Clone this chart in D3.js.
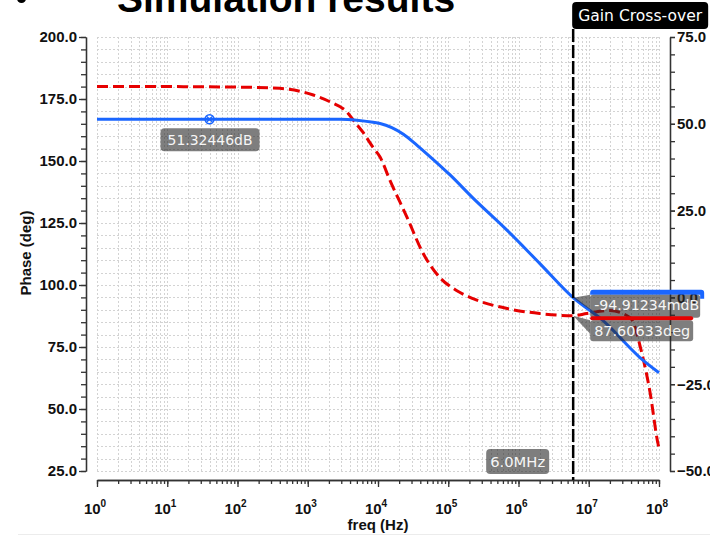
<!DOCTYPE html>
<html>
<head>
<meta charset="utf-8">
<script src="https://cdn.jsdelivr.net/npm/d3@7"></script>
<style>
  body { margin: 0; background: #fff; }
  svg { display: block; }
</style>
</head>
<body>
<svg id="chart" width="710" height="535"></svg>
<script>
// Open-loop magnitude (dB) vs frequency
const gainFreq = [1, 2.9e3, 5.0e3, 8.5e3, 1.07e4, 2.3e4, 3.6e4, 5.0e4, 1.07e5, 2.2e5, 6.9e5, 2.0e6, 6.0e6, 1.6e7, 5.4e7, 1e8];
const gainDb   = [51.32446, 51.32, 51.05, 50.45, 50.1, 47.0, 43.8, 41.3, 35.2, 28.8, 19.3, 9.8, -0.09491234, -6.7, -17.4, -21.7];

// Open-loop phase (deg) vs frequency
const phaseFreq = [1, 10, 100, 400, 1.2e3, 2.1e3, 3.6e3, 4.7e3, 6.1e3, 8.5e3, 1.07e4, 1.48e4, 2.6e4, 4.4e4, 7.6e4, 1.33e5, 2.25e5, 6.9e5, 2.0e6, 6.0e6, 9.4e6, 2.0e7, 3.9e7, 5.7e7, 7.4e7, 9.7e7, 1e8];
const phaseDeg  = [180, 180, 179.8, 179.3, 176.6, 173.8, 169.8, 165.6, 161.6, 155.5, 151.6, 142.2, 127.2, 112.7, 103.0, 97.7, 94.5, 90.5, 88.5, 87.60633, 88.5, 89.7, 86.8, 72.5, 57.3, 35.9, 34.3];

// Axis ticks
const decadeExponents = [0, 1, 2, 3, 4, 5, 6, 7, 8];
const phaseMajorTicks = [25, 50, 75, 100, 125, 150, 175, 200];
const gainMajorTicks  = [-50, -25, 0, 25, 50, 75];

// Markers
const dcMarkerFreq = 40;
const dcMarkerGain = 51.32446;
const crossoverFreq = 6.0e6;
const crossoverGain = -0.09491234;   // -94.91234 mdB
const crossoverPhase = 87.60633;

const blue = "#1a66ff";
const red = "#e60000";
const labelFont = "'DejaVu Sans', sans-serif";
const axisFont = "'Liberation Sans', Arial, sans-serif";

const svg = d3.select("#chart");

const plot = { left: 97, right: 659, top: 37, bottom: 471 };

const x = d3.scaleLog().domain([1, 1e8]).range([plot.left, plot.right]);
const yPhase = d3.scaleLinear().domain([25, 200]).range([plot.bottom, plot.top]);
const yGain = d3.scaleLinear().domain([-50, 75]).range([plot.bottom, plot.top]);

// Page edge
svg.append("rect").attr("x", 18).attr("y", 534).attr("width", 692).attr("height", 1).attr("fill", "#ececec");

// Title strip
svg.append("circle").attr("cx", 21.5).attr("cy", -1.5).attr("r", 4.5).attr("fill", "#000");
svg.append("text")
  .attr("x", 117).attr("y", 12)
  .attr("font-family", axisFont).attr("font-weight", "bold").attr("font-size", 39)
  .attr("fill", "#000")
  .text("Simulation results");

// Grid
const minorFreqs = [];
for (let e = 0; e < 8; e++) for (let m = 1; m < 10; m++) minorFreqs.push(m * Math.pow(10, e));
minorFreqs.push(1e8);
const phaseMinor = d3.range(25, 200.001, 5);

const grid = svg.append("g")
  .attr("stroke", "#d3d3d3").attr("stroke-width", 1).attr("stroke-dasharray", "2,2").attr("fill", "none");
grid.selectAll("line.v").data(minorFreqs).join("line")
  .attr("x1", d => Math.round(x(d)) + 0.5).attr("x2", d => Math.round(x(d)) + 0.5)
  .attr("y1", plot.top).attr("y2", plot.bottom);
grid.selectAll("line.h").data(phaseMinor).join("line")
  .attr("y1", d => Math.round(yPhase(d)) + 0.5).attr("y2", d => Math.round(yPhase(d)) + 0.5)
  .attr("x1", plot.left).attr("x2", plot.right);

// Axes
function styleAxis(g) {
  g.selectAll("path.domain").attr("stroke", "#333").attr("stroke-width", 1.3);
  g.selectAll(".tick line").attr("stroke", "#333").attr("stroke-width", 1.3);
  g.selectAll("text").attr("font-family", axisFont).attr("font-weight", "bold")
    .attr("font-size", 15).attr("fill", "#111");
}

// Left (phase) axis
svg.append("g").attr("transform", "translate(86,0)")
  .call(d3.axisLeft(yPhase).tickValues(phaseMinor).tickSize(5).tickSizeOuter(0).tickFormat(""))
  .call(styleAxis);
svg.append("g").attr("transform", "translate(86,0)")
  .call(d3.axisLeft(yPhase).tickValues(phaseMajorTicks).tickSize(7).tickPadding(2).tickSizeOuter(0).tickFormat(d3.format(".1f")))
  .call(styleAxis);

// Right (gain) axis
const gainMinor = d3.range(-50, 75.001, 5);
svg.append("g").attr("transform", "translate(670,0)")
  .call(d3.axisRight(yGain).tickValues(gainMinor).tickSize(5).tickSizeOuter(0).tickFormat(""))
  .call(styleAxis);
svg.append("g").attr("transform", "translate(670,0)")
  .call(d3.axisRight(yGain).tickValues(gainMajorTicks).tickSize(5).tickPadding(2).tickSizeOuter(0).tickFormat(d3.format(".1f")))
  .call(styleAxis);

// Bottom (frequency) axis
svg.append("g").attr("transform", "translate(0,480)")
  .call(d3.axisBottom(x).tickValues(minorFreqs).tickSize(4).tickSizeOuter(0).tickFormat(""))
  .call(styleAxis);
svg.append("g").attr("transform", "translate(0,480)")
  .call(d3.axisBottom(x).tickValues(decadeExponents.map(e => Math.pow(10, e))).tickSize(7).tickSizeOuter(0).tickFormat(""))
  .call(styleAxis);

const xLabels = svg.append("g");
decadeExponents.forEach(e => {
  const t = xLabels.append("text")
    .attr("x", x(Math.pow(10, e)) - 2).attr("y", 514)
    .attr("text-anchor", "middle")
    .attr("font-family", axisFont).attr("font-weight", "bold").attr("font-size", 15)
    .attr("fill", "#111");
  t.append("tspan").text("10");
  t.append("tspan").attr("dy", -7).attr("font-size", 10).text(e);
});

// Axis titles
svg.append("text")
  .attr("transform", "translate(31,253) rotate(-90)")
  .attr("text-anchor", "middle")
  .attr("font-family", axisFont).attr("font-weight", "bold").attr("font-size", 15)
  .attr("fill", "#111")
  .text("Phase (deg)");
svg.append("text")
  .attr("x", 378).attr("y", 530)
  .attr("text-anchor", "middle")
  .attr("font-family", axisFont).attr("font-weight", "bold").attr("font-size", 15)
  .attr("fill", "#111")
  .text("freq (Hz)");

// Curves
const gainData = gainFreq.map((f, i) => [x(f), yGain(gainDb[i])]);
const phaseData = phaseFreq.map((f, i) => [x(f), yPhase(phaseDeg[i])]);
const line = d3.line().curve(d3.curveMonotoneX);

svg.append("path").attr("d", line(phaseData))
  .attr("fill", "none").attr("stroke", red).attr("stroke-width", 3)
  .attr("stroke-dasharray", "11,5");
svg.append("path").attr("d", line(gainData))
  .attr("fill", "none").attr("stroke", blue).attr("stroke-width", 3);

// Gain cross-over cursor
const xc = x(crossoverFreq);
svg.append("line")
  .attr("x1", xc).attr("x2", xc).attr("y1", 29).attr("y2", 480)
  .attr("stroke", "#000").attr("stroke-width", 2.5).attr("stroke-dasharray", "13,3");
svg.append("rect").attr("x", xc - 1).attr("y", 2).attr("width", 136).attr("height", 27).attr("rx", 4)
  .attr("fill", "#000");
svg.append("text")
  .attr("x", xc + 67).attr("y", 21).attr("text-anchor", "middle")
  .attr("font-family", labelFont).attr("font-size", 15).attr("fill", "#fff")
  .attr("textLength", 124).attr("lengthAdjust", "spacingAndGlyphs")
  .text("Gain Cross-over");

const boxFill = "rgba(40,40,40,0.6)";

function labelText(tx, ty, str, len) {
  svg.append("text")
    .attr("x", tx).attr("y", ty)
    .attr("font-family", labelFont).attr("font-size", 14).attr("fill", "#f6f6f6")
    .attr("textLength", len).attr("lengthAdjust", "spacingAndGlyphs")
    .text(str);
}

// Frequency readout on the cursor
svg.append("rect").attr("x", xc - 87).attr("y", 449).attr("width", 63).attr("height", 25).attr("rx", 4)
  .attr("fill", boxFill);
labelText(xc - 83, 467, "6.0MHz", 55);

// DC gain marker
const mx = x(dcMarkerFreq), my = yGain(dcMarkerGain);
svg.append("rect").attr("x", mx - 49).attr("y", my + 9).attr("width", 99).attr("height", 23).attr("rx", 4)
  .attr("fill", boxFill);
labelText(mx - 42, my + 26, "51.32446dB", 85);
svg.append("circle").attr("cx", mx).attr("cy", my).attr("r", 4.5)
  .attr("fill", "none").attr("stroke", blue).attr("stroke-width", 1.5);
svg.append("path")
  .attr("d", `M${mx - 3},${my - 3}L${mx + 3},${my + 3}M${mx - 3},${my + 3}L${mx + 3},${my - 3}`)
  .attr("stroke", blue).attr("stroke-width", 1.2);

// Crossover gain readout (trace-coloured tab above a translucent box)
const gy = yGain(crossoverGain);
const bx = xc + 17;
svg.append("path")
  .attr("d", `M${bx},${gy + 1}V${gy - 5}Q${bx},${gy - 8} ${bx + 3},${gy - 8}H${bx + 111}Q${bx + 114},${gy - 8} ${bx + 114},${gy - 5}V${gy + 1}H${bx + 110}V${gy - 3}H${bx}Z`)
  .attr("fill", blue);
svg.append("path").attr("d", `M${xc},${gy}L${bx},${gy - 3}L${bx},${gy + 12}Z`).attr("fill", boxFill);
svg.append("rect").attr("x", bx).attr("y", gy - 3).attr("width", 110).attr("height", 23).attr("rx", 3)
  .attr("fill", boxFill);
labelText(bx + 4, gy + 12.5, "-94.91234mdB", 105);

// Crossover phase readout
const py = yPhase(crossoverPhase);
svg.append("rect").attr("x", bx).attr("y", py + 0.5).attr("width", 103).attr("height", 4).attr("rx", 2)
  .attr("fill", red);
svg.append("path").attr("d", `M${xc},${py}L${bx},${py + 4.5}L${bx},${py + 18}Z`).attr("fill", boxFill);
svg.append("rect").attr("x", bx).attr("y", py + 4.5).attr("width", 103).attr("height", 21).attr("rx", 3)
  .attr("fill", boxFill);
labelText(bx + 4, py + 20, "87.60633deg", 96);
</script>
</body>
</html>
